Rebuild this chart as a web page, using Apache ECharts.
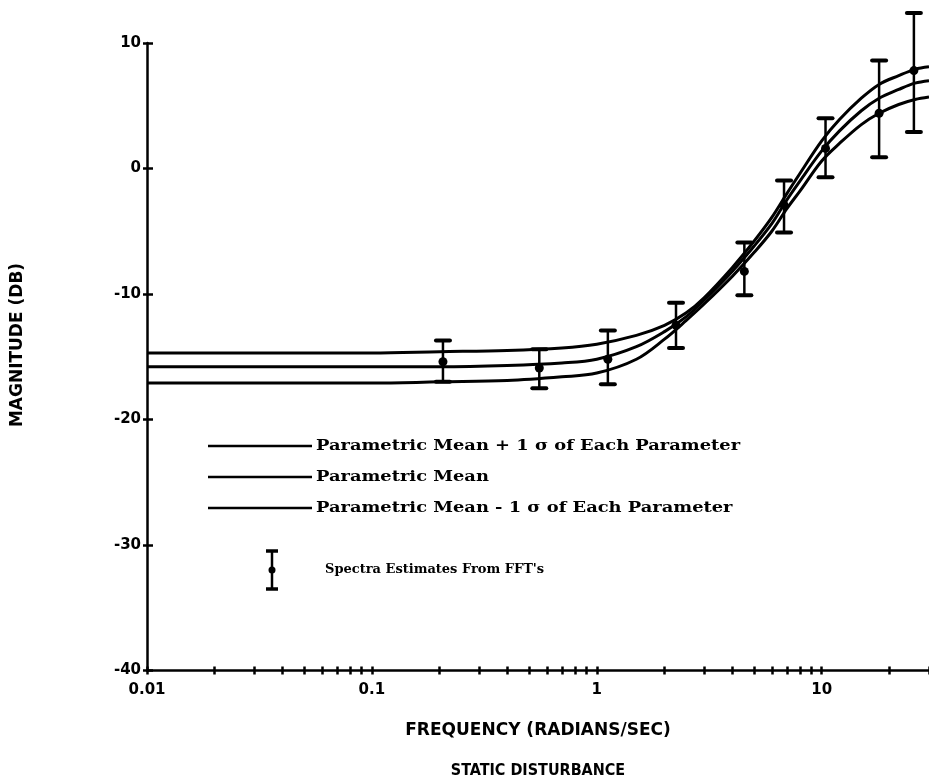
<!DOCTYPE html>
<html><head><meta charset="utf-8">
<script src="https://cdn.jsdelivr.net/npm/echarts@6/dist/echarts.min.js"></script>
<style>html,body{margin:0;padding:0;background:#fff}#c{width:929px;height:784px}</style>
</head><body><div id="c"></div>
<script>
// ---- data ----
const curveFreq = [0.01, 0.05, 0.1, 0.2, 0.4, 0.7, 1, 1.5, 2, 2.5, 3, 4, 5, 6, 7, 8, 10, 12, 15, 18, 22, 26, 30];
const meanPlus  = [-14.7, -14.7, -14.7, -14.6, -14.5, -14.3, -14.0, -13.3, -12.5, -11.5, -10.3, -7.9, -5.8, -3.9, -2.0, -0.4, 2.2, 3.9, 5.6, 6.7, 7.4, 7.9, 8.1];
const meanCurve = [-15.8, -15.8, -15.8, -15.8, -15.7, -15.5, -15.2, -14.2, -13.0, -11.8, -10.5, -8.2, -6.2, -4.4, -2.5, -1.0, 1.4, 3.0, 4.6, 5.6, 6.3, 6.8, 7.0];
const meanMinus = [-17.1, -17.1, -17.1, -17.0, -16.9, -16.6, -16.3, -15.2, -13.6, -12.1, -10.8, -8.6, -6.7, -5.0, -3.2, -1.8, 0.6, 2.0, 3.5, 4.4, 5.1, 5.5, 5.7];

const fftFreq  = [0.207, 0.555, 1.12, 2.25, 4.53, 6.8, 10.4, 18.0, 25.7];
const fftValue = [-15.4, -15.9, -15.2, -12.5, -8.2, -2.9, 1.6, 4.4, 7.8];
const fftLow   = [-17.0, -17.5, -17.2, -14.3, -10.1, -5.1, -0.7, 0.9, 2.9];
const fftHigh  = [-13.7, -14.4, -12.9, -10.7, -5.9, -0.95, 4.0, 8.6, 12.4];

const xLabelValues = [0.01, 0.1, 1, 10];
const xLabelTexts  = ['0.01', '0.1', '1', '10'];
const xTickValues  = [0.01,0.02,0.03,0.04,0.05,0.06,0.07,0.08,0.09,
                      0.1,0.2,0.3,0.4,0.5,0.6,0.7,0.8,0.9,
                      1,2,3,4,5,6,7,8,9,10,20,30];
const yMin = -40, yMax = 10, yStep = 10;

const legendLabels = [
  'Parametric Mean + 1 \u03c3 of Each Parameter',
  'Parametric Mean',
  'Parametric Mean - 1 \u03c3 of Each Parameter'
];
const fftLabel = "Spectra Estimates From FFT's";
const xTitle = 'FREQUENCY (RADIANS/SEC)';
const yTitle = 'MAGNITUDE (DB)';
const bottomTitle = 'STATIC DISTURBANCE';

// ---- chart ----
const chart = echarts.init(document.getElementById('c'), null, {renderer: 'canvas'});
const labelFont = {fontFamily: 'DejaVu Sans', fontWeight: 'bold', fontSize: 15, color: '#000'};
const legendFont = 'bold 15px "DejaVu Serif"';

const xAxisBase = {
  type: 'log', logBase: 10, min: 0.01, max: 30, gridIndex: 0,
  splitLine: {show: false}, minorTick: {show: false}
};
const yAxisBase = {
  type: 'value', min: yMin, max: yMax, interval: yStep,
  splitLine: {show: false}
};

function pairs(xs, ys) { return xs.map((x, i) => [x, ys[i]]); }

const lineSeries = [meanPlus, meanCurve, meanMinus].map((vals, k) => ({
  name: legendLabels[k],
  type: 'line',
  data: pairs(curveFreq, vals),
  smooth: 0.35,
  symbol: 'none',
  lineStyle: {color: '#000', width: 3},
  z: 3,
  silent: true
}));

const errData = fftFreq.map((f, i) => [f, fftValue[i], fftLow[i], fftHigh[i]]);

const legendGraphics = [];
const legendY = [446, 477, 508];
legendY.forEach((y, k) => {
  legendGraphics.push({type: 'line', shape: {x1: 208, y1: y, x2: 312, y2: y}, style: {stroke: '#000', lineWidth: 2.5}});
  legendGraphics.push({type: 'text', x: 316, y: y, scaleX: 1.19, scaleY: 1,
    style: {text: legendLabels[k], font: legendFont, fill: '#000', verticalAlign: 'middle'}});
});
// error-bar legend icon
legendGraphics.push({type: 'line', shape: {x1: 272, y1: 551, x2: 272, y2: 589}, style: {stroke: '#000', lineWidth: 2.5}});
legendGraphics.push({type: 'line', shape: {x1: 266, y1: 551, x2: 278, y2: 551}, style: {stroke: '#000', lineWidth: 3.5}});
legendGraphics.push({type: 'line', shape: {x1: 266, y1: 589, x2: 278, y2: 589}, style: {stroke: '#000', lineWidth: 3.5}});
legendGraphics.push({type: 'circle', shape: {cx: 272, cy: 570, r: 3.5}, style: {fill: '#000'}});
legendGraphics.push({type: 'text', x: 325, y: 570, style: {text: fftLabel, font: 'bold 13px "DejaVu Serif"', fill: '#000', verticalAlign: 'middle'}});
// axis titles
legendGraphics.push({type: 'text', x: 18, y: 345, rotation: Math.PI / 2,
  style: {text: yTitle, font: 'bold 17px "DejaVu Sans"', fill: '#000', align: 'center', verticalAlign: 'middle'}});
legendGraphics.push({type: 'text', x: 538, y: 771,
  style: {text: bottomTitle, font: 'bold 16px "DejaVu Sans Condensed", "DejaVu Sans"', fill: '#000', align: 'center', verticalAlign: 'middle'}});

chart.setOption({
  animation: false,
  backgroundColor: '#fff',
  grid: {left: 147, top: 43, width: 786, bottom: 113.5, containLabel: false},
  xAxis: [
    Object.assign({}, xAxisBase, {
      position: 'bottom',
      axisLine: {show: true, onZero: false, lineStyle: {color: '#000', width: 2.5}},
      axisTick: {show: true, inside: false, length: 4, lineStyle: {color: '#000', width: 2.5}, customValues: xTickValues},
      axisLabel: {show: true, margin: 12, customValues: xLabelValues,
        formatter: v => { const i = xLabelValues.findIndex(t => Math.abs(t - v) / t < 1e-6); return i >= 0 ? xLabelTexts[i] : ''; },
        ...labelFont},
      name: xTitle, nameLocation: 'middle', nameGap: 52,
      nameTextStyle: {fontFamily: 'DejaVu Sans', fontWeight: 'bold', fontSize: 17, color: '#000', verticalAlign: 'top'}
    }),
    Object.assign({}, xAxisBase, {
      position: 'bottom',
      axisLine: {show: false, onZero: false},
      axisTick: {show: true, inside: true, length: 4, lineStyle: {color: '#000', width: 2.5}, customValues: xTickValues},
      axisLabel: {show: false}
    })
  ],
  yAxis: [
    Object.assign({}, yAxisBase, {
      position: 'left',
      axisLine: {show: true, onZero: false, lineStyle: {color: '#000', width: 2.5}},
      axisTick: {show: true, inside: false, length: 4, lineStyle: {color: '#000', width: 2.5}},
      axisLabel: {show: true, margin: 6, ...labelFont}
    }),
    Object.assign({}, yAxisBase, {
      position: 'left',
      axisLine: {show: false, onZero: false},
      axisTick: {show: true, inside: true, length: 6, lineStyle: {color: '#000', width: 2.5}},
      axisLabel: {show: false}
    })
  ],
  graphic: legendGraphics,
  series: lineSeries.concat([{
    name: fftLabel,
    type: 'custom',
    data: errData,
    encode: {x: 0, y: [1, 2, 3]},
    clip: false,
    z: 4,
    silent: true,
    renderItem: (params, api) => {
      const f = api.value(0);
      const p = api.coord([f, api.value(1)]);
      const lo = api.coord([f, api.value(2)]);
      const hi = api.coord([f, api.value(3)]);
      const hw = 7;
      const st = {stroke: '#000', lineWidth: 2.5};
      const cap = {stroke: '#000', lineWidth: 4, lineCap: 'round'};
      return {type: 'group', children: [
        {type: 'line', shape: {x1: lo[0], y1: lo[1], x2: hi[0], y2: hi[1]}, style: st},
        {type: 'line', shape: {x1: hi[0] - hw, y1: hi[1], x2: hi[0] + hw, y2: hi[1]}, style: cap},
        {type: 'line', shape: {x1: lo[0] - hw, y1: lo[1], x2: lo[0] + hw, y2: lo[1]}, style: cap},
        {type: 'circle', shape: {cx: p[0], cy: p[1], r: 4.5}, style: {fill: '#000'}}
      ]};
    }
  }])
});
</script>
</body></html>
